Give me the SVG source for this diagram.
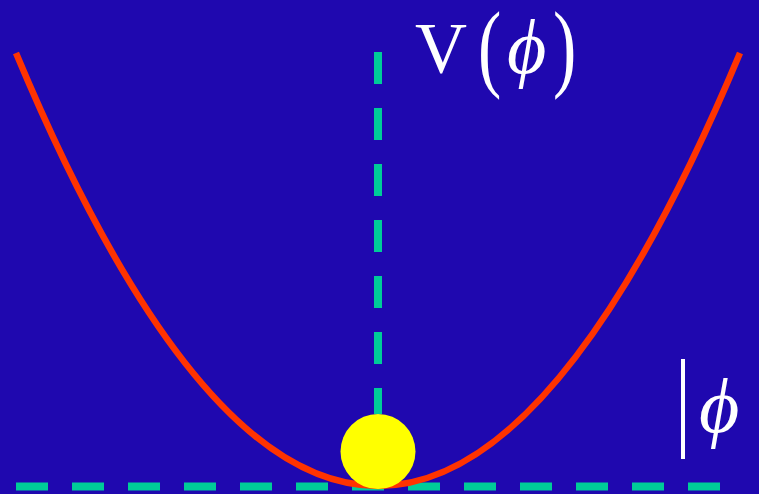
<svg xmlns="http://www.w3.org/2000/svg" width="759" height="494" viewBox="0 0 759 494">
<style>
.axis{stroke:#00CC99;stroke-width:8;stroke-dasharray:32 24;fill:none}
.t{font-family:"Liberation Serif","DejaVu Serif",serif;fill:#FFFFFF}
</style>
<rect width="759" height="494" fill="#1F08AF"/>
<g id="connectors">
<line class="axis" x1="16" y1="486.5" x2="720" y2="486.5"/>
<line class="axis" x1="378" y1="52" x2="378" y2="414"/>
</g>
<g id="curve">
<path d="M16,53 Q378,919 740,53" fill="none" stroke="#FF3300" stroke-width="6.5"/>
</g>
<g id="ball">
<circle cx="378" cy="451.5" r="37.5" fill="#FFFF00"/>
</g>
<g id="label-v">
<text class="t" x="415" y="72" font-size="72">V</text>
<text class="t" transform="translate(478,79) scale(1,1.4)" font-size="70">(</text>
<text class="t" x="507" y="73" font-size="76" font-style="italic">ϕ</text>
<text class="t" transform="translate(553,79) scale(1,1.4)" font-size="70">)</text>
</g>
<g id="label-phi">
<line x1="683" y1="359" x2="683" y2="459" stroke="#FFFFFF" stroke-width="4"/>
<text class="t" x="699" y="432" font-size="78" font-style="italic">ϕ</text>
</g>
</svg>
